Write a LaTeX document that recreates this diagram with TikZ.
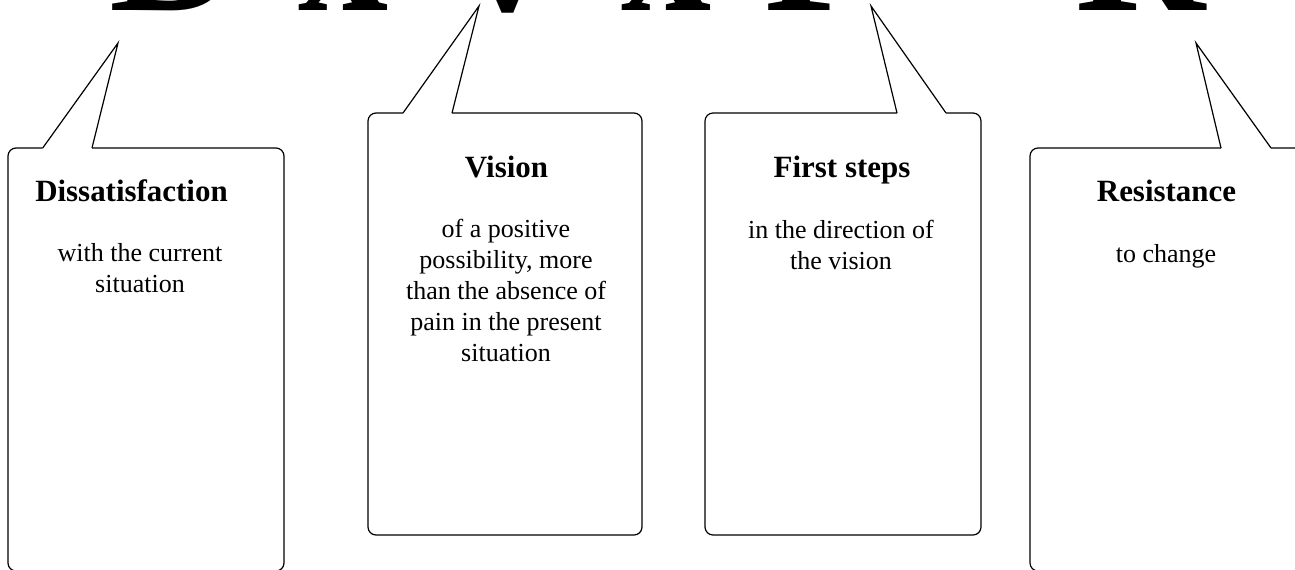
\documentclass[tikz,border=0pt]{standalone}
\usepackage{fontspec}
\setmainfont{Liberation Serif}
\newcommand\headfont{\fontsize{23.2}{27}\selectfont\bfseries}
\newcommand\bodyfont{\fontsize{19.5}{23.25}\selectfont}
\newcommand\bigfont{\fontsize{135}{135}\selectfont\bfseries}
\begin{document}
\begin{tikzpicture}[x=0.75pt,y=-0.75pt,
  callout/.style={draw=black,line width=0.9pt,rounded corners=6},
  tip/.style={draw=black,line width=0.9pt,line join=miter},
  head/.style={font=\headfont,anchor=base,inner sep=0pt},
  body/.style={font=\bodyfont,align=center,anchor=north,inner sep=0pt},
  bigletter/.style={font=\bigfont,anchor=base west,inner sep=0pt}]
\useasboundingbox (0,0) rectangle (1295,569);
\clip (0,0) rectangle (1295,569);

% the formula along the top edge
\node[bigletter] (lD)  at (109,10.5)  {D};
\node[bigletter] (lx1) at (298,10.5)  {x};
\node[bigletter] (lV)  at (442,10.5)  {V};
\node[bigletter] (lx2) at (621,10.5)  {x};
\node[bigletter] (lF)  at (764,10.5)  {F};
\node[bigletter] (lR)  at (1075,10.5) {R};

% callout tips
\coordinate (t1) at (118,43);
\coordinate (t2) at (479,6);
\coordinate (t3) at (871,6);
\coordinate (t4) at (1196,43);

% callout 1: Dissatisfaction
\draw[callout] (92,148) -- (284,148) -- (284,571) -- (8,571) -- (8,148) -- (42.7,148);
\draw[tip] (42.7,148) -- (t1) -- (92,148);
% callout 2: Vision
\draw[callout] (452,113) -- (642,113) -- (642,535) -- (368,535) -- (368,113) -- (403,113);
\draw[tip] (403,113) -- (t2) -- (452,113);
% callout 3: First steps
\draw[callout] (946,113) -- (981,113) -- (981,535) -- (705,535) -- (705,113) -- (897,113);
\draw[tip] (897,113) -- (t3) -- (946,113);
% callout 4: Resistance
\draw[callout] (1271,148) -- (1306,148) -- (1306,571) -- (1030,571) -- (1030,148) -- (1221,148);
\draw[tip] (1221,148) -- (t4) -- (1271,148);

% headings
\node[head] (h1) at (131.5,201.7) {Dissatisfaction};
\node[head] (h2) at (506.5,177)   {Vision};
\node[head] (h3) at (842,177)     {First steps};
\node[head] (h4) at (1166.5,201.7){Resistance};

% descriptions (top of each node = first baseline minus strut height)
\node[body] (b1) at (140,240)  {\strut with the current\\situation};
\node[body] (b2) at (506,215.3) {\strut of a positive\\possibility, more\\than the absence of\\pain in the present\\situation};
\node[body] (b3) at (841,216.3) {\strut in the direction of\\the vision};
\node[body] (b4) at (1166,240.3){\strut to change};
\end{tikzpicture}
\end{document}
